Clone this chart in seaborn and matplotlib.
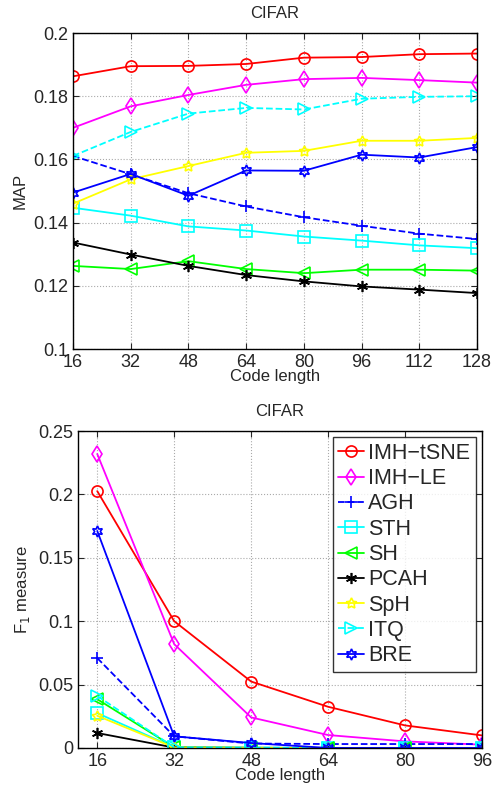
import numpy as np
import pandas as pd
import matplotlib
matplotlib.use("Agg")
import matplotlib.pyplot as plt
import seaborn as sns

# code lengths
bits_map = [16, 32, 48, 64, 80, 96, 112, 128]
bits_f1 = [16, 32, 48, 64, 80, 96]

methods = ["IMH\u2212tSNE", "IMH\u2212LE", "AGH", "STH", "SH", "PCAH", "SpH", "ITQ", "BRE"]

# MAP values
map_imh_tsne = [0.1863, 0.1895, 0.1896, 0.1902, 0.1922, 0.1924, 0.1933, 0.1935]
map_imh_le = [0.1700, 0.1768, 0.1804, 0.1836, 0.1854, 0.1858, 0.1851, 0.1843]
map_agh = [0.1611, 0.1553, 0.1493, 0.1451, 0.1417, 0.1390, 0.1365, 0.1348]
map_sth = [0.1447, 0.1422, 0.1388, 0.1375, 0.1356, 0.1343, 0.1328, 0.1319]
map_sh = [0.1263, 0.1253, 0.1278, 0.1253, 0.1240, 0.1251, 0.1251, 0.1248]
map_pcah = [0.1337, 0.1299, 0.1263, 0.1234, 0.1214, 0.1198, 0.1188, 0.1177]
map_sph = [0.1460, 0.1537, 0.1579, 0.1621, 0.1627, 0.1659, 0.1659, 0.1668]
map_itq = [0.1611, 0.1687, 0.1745, 0.1763, 0.1758, 0.1792, 0.1798, 0.1800]
map_bre = [0.1495, 0.1554, 0.1485, 0.1565, 0.1564, 0.1615, 0.1606, 0.1639]

# F1 values
f1_imh_tsne = [0.2026, 0.1000, 0.0524, 0.0325, 0.0178, 0.0099]
f1_imh_le = [0.2319, 0.0819, 0.0241, 0.0102, 0.0052, 0.0026]
f1_agh = [0.0709, 0.0092, 0.0035, 0.0031, 0.0031, 0.0031]
f1_sth = [0.0275, 0.0005, 0.0002, 0.0, 0.0, 0.0]
f1_sh = [0.0385, 0.0005, 0.0002, 0.0, 0.0, 0.0]
f1_pcah = [0.0118, 0.0003, 0.0001, 0.0, 0.0, 0.0]
f1_sph = [0.0254, 0.0004, 0.0001, 0.0, 0.0, 0.0]
f1_itq = [0.0410, 0.0005, 0.0002, 0.0, 0.0, 0.0]
f1_bre = [0.1712, 0.0092, 0.0039, 0.0, 0.0, 0.0]

map_vals = [map_imh_tsne, map_imh_le, map_agh, map_sth, map_sh, map_pcah, map_sph, map_itq, map_bre]
f1_vals = [f1_imh_tsne, f1_imh_le, f1_agh, f1_sth, f1_sh, f1_pcah, f1_sph, f1_itq, f1_bre]

#styles (matlab-ish)
colors = ["#ff0000", "#ff00ff", "#0000ff", "#00ffff", "#00ff00", "#000000", "#ffff00", "#00ffff", "#0000ff"]
markers = ["o", "d", "+", "s", "<", (6, 2, 0), (5, 1, 0), ">", (6, 1, 0)]
lstyles = ["-", "-", "--", "-", "-", "-", "-", "--", "-"]

df_map = pd.DataFrame([(m, b, v) for m, vals in zip(methods, map_vals) for b, v in zip(bits_map, vals)],
                      columns=["method", "bits", "value"])
df_f1 = pd.DataFrame([(m, b, v) for m, vals in zip(methods, f1_vals) for b, v in zip(bits_f1, vals)],
                     columns=["method", "bits", "value"])

sns.set_style("ticks")
plt.rcParams['font.family'] = ['Liberation Sans', 'DejaVu Sans']

fig = plt.figure(figsize=(4.95, 7.88), dpi=100)
ax1 = fig.add_axes([0.1475, 0.5571, 0.8161, 0.4010])
ax2 = fig.add_axes([0.1576, 0.0508, 0.8161, 0.4022])


def draw(ax, df):
    for i, m in enumerate(methods):
        sub = df[df.method == m]
        filled = markers[i] in ["+", (6, 2, 0)]
        sns.lineplot(data=sub, x="bits", y="value", ax=ax, color=colors[i], marker=markers[i],
                     linestyle=lstyles[i], markersize=8, markeredgewidth=1.2,
                     markerfacecolor=colors[i] if filled else "none", markeredgecolor=colors[i],
                     linewidth=1.3, label=m, legend=False)
    ax.grid(True, linestyle=":", color="#aaaaaa", linewidth=0.8)
    ax.tick_params(direction="in", labelsize=13, length=4, top=True, right=True)
    for s in ax.spines.values():
        s.set_linewidth(1.0)
        s.set_color("black")
    ax.set_xlabel("Code length", fontsize=12, labelpad=-1)
    ax.set_title("CIFAR", fontsize=12, pad=11)


draw(ax1, df_map)
ax1.set_xlim(16, 128)
ax1.set_ylim(0.1, 0.2)
ax1.set_xticks(bits_map)
ax1.set_yticks([0.1, 0.12, 0.14, 0.16, 0.18, 0.2])
ax1.set_yticklabels(["0.1", "0.12", "0.14", "0.16", "0.18", "0.2"])
ax1.set_ylabel("MAP", fontsize=12)

draw(ax2, df_f1)
ax2.set_xlim(12, 96)
ax2.set_ylim(0, 0.25)
ax2.set_xticks(bits_f1)
ax2.set_yticks([0, 0.05, 0.1, 0.15, 0.2, 0.25])
ax2.set_yticklabels(["0", "0.05", "0.1", "0.15", "0.2", "0.25"])
ax2.set_ylabel("F$_1$ measure", fontsize=12)
leg = ax2.legend(loc="upper right", fontsize=15.5, frameon=True, fancybox=False, handlelength=1.2,
                 handletextpad=0.2, labelspacing=0.2, borderpad=0.25, borderaxespad=0.3)
leg.get_frame().set_edgecolor("black")
leg.get_frame().set_linewidth(1.0)

plt.savefig("out.png", dpi=100)
